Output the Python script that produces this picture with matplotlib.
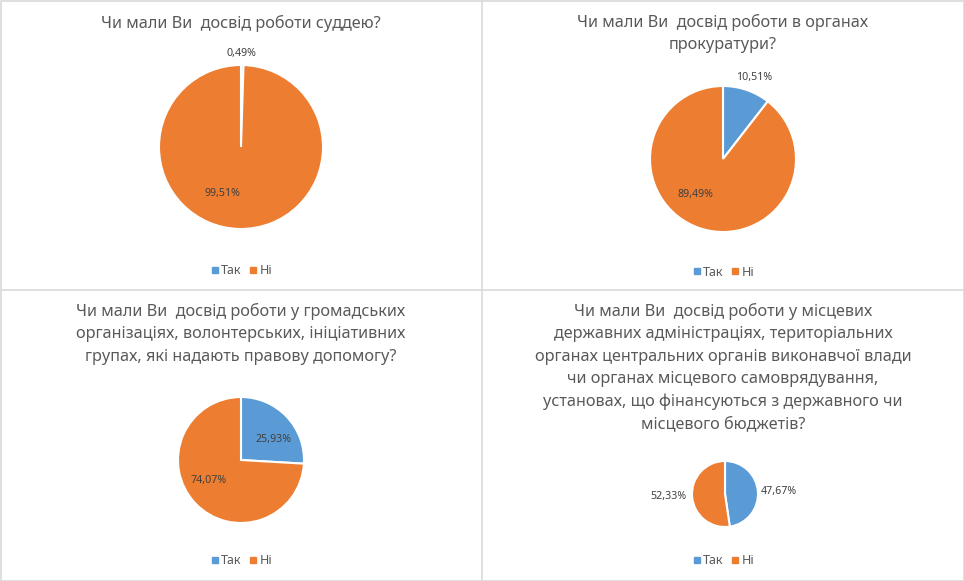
import matplotlib.pyplot as plt
from matplotlib.lines import Line2D

plt.rcParams['font.family'] = ['Noto Sans', 'DejaVu Sans']

# DATA
#------------------------
categories = ['Так', 'Ні']
titles = [
    'Чи мали Ви  досвід роботи суддею?',
    'Чи мали Ви  досвід роботи в органах\nпрокуратури?',
    'Чи мали Ви  досвід роботи у громадських\nорганізаціях, волонтерських, ініціативних\nгрупах, які надають правову допомогу?',
    'Чи мали Ви  досвід роботи у місцевих\nдержавних адміністраціях, територіальних\n'
    'органах центральних органів виконавчої влади\nчи органах місцевого самоврядування,\n'
    'установах, що фінансуються з державного чи\nмісцевого бюджетів?',
]
tak = [0.49, 10.51, 25.93, 47.67]
ni = [99.51, 89.49, 74.07, 52.33]
#------------------------

colors = ['#5B9BD5', '#ED7D31']
grey = '#595959'
W, H = 964, 581

# layout in pixels: pie centre, radius, title top, legend y
pies = [(241, 147, 82), (723, 159, 73), (241, 460, 63), (725, 494, 33)]
title_y = [15, 14, 303, 303]
panel_cx = [241, 723, 241, 723]
legend_y = [271, 272, 561, 561]
# label positions in units of the radius (x, y) relative to the centre
label_pos = [
    [(0.0, 1.14), (-0.23, -0.57)],
    [(0.43, 1.11), (-0.38, -0.48)],
    [(0.51, 0.33), (-0.52, -0.33)],
    [(1.62, 0.09), (-1.70, -0.09)],
]

fig = plt.figure(figsize=(W / 100, H / 100), dpi=100)

for i in range(4):
    cx, cy, r = pies[i]
    ax = fig.add_axes([(cx - r) / W, 1 - (cy + r) / H, 2 * r / W, 2 * r / H])
    wedges, _, autotexts = ax.pie(
        [tak[i], ni[i]], colors=colors, startangle=90, counterclock=False,
        autopct=lambda p: '{:.2f}%'.format(p).replace('.', ','),
        wedgeprops=dict(edgecolor='white', linewidth=1.5),
        textprops=dict(fontsize=7.7, color='#404040'))
    for t, (px, py) in zip(autotexts, label_pos[i]):
        t.set_position((px, py))
        t.set_ha('center')
        t.set_va('center')
    ax.set_xlim(-1, 1)
    ax.set_ylim(-1, 1)
    ax.set_aspect('equal')
    ax.axis('off')

    fig.text(panel_cx[i] / W, 1 - title_y[i] / H, titles[i], ha='center', va='top',
             fontsize=11.7, color=grey, linespacing=1.52)

    handles = [Line2D([], [], marker='s', ls='', color=c, markersize=4) for c in colors]
    fig.legend(handles, categories, loc='center', ncol=2, frameon=False,
               bbox_to_anchor=(panel_cx[i] / W, 1 - legend_y[i] / H),
               fontsize=9, labelcolor=grey, handletextpad=0.1, columnspacing=0.5,
               handlelength=0.8)

# panel borders
border = dict(color='#d9d9d9', lw=1.2)
fig.add_artist(Line2D([482 / W, 482 / W], [0, 1], transform=fig.transFigure, **border))
fig.add_artist(Line2D([0, 1], [1 - 290 / H, 1 - 290 / H], transform=fig.transFigure, **border))
fig.add_artist(Line2D([0.5 / W, 0.5 / W, 1 - 0.5 / W, 1 - 0.5 / W, 0.5 / W],
                      [0.5 / H, 1 - 0.5 / H, 1 - 0.5 / H, 0.5 / H, 0.5 / H],
                      transform=fig.transFigure, **border))

fig.savefig('out.png', dpi=100)
